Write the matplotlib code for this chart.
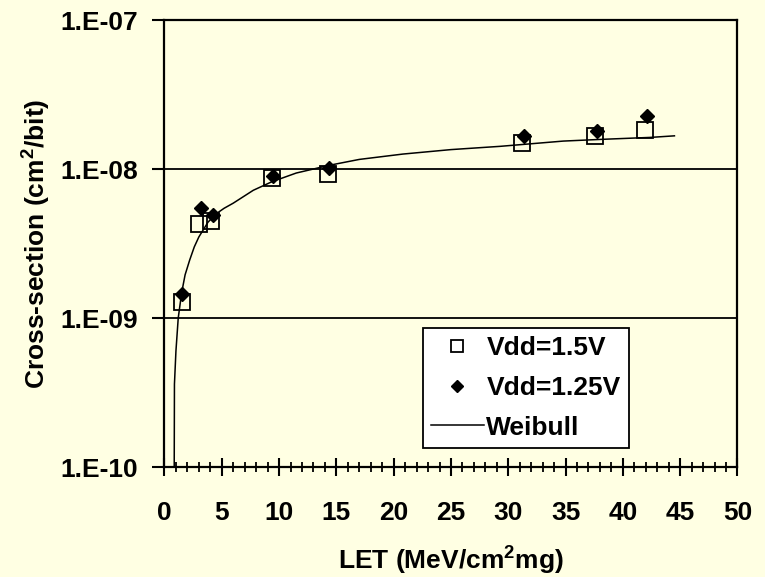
import numpy as np
import matplotlib
matplotlib.use("Agg")
import matplotlib.pyplot as plt
from matplotlib.ticker import FixedLocator, MultipleLocator, FuncFormatter

# LET values (MeV cm2/mg) and cross-sections (cm2/bit)
let_15 = [1.5, 3.0, 4.05, 9.4, 14.3, 31.2, 37.6, 41.9]
xs_15 = [1.28e-9, 4.3e-9, 4.5e-9, 8.75e-9, 9.2e-9, 1.50e-8, 1.66e-8, 1.84e-8]

let_125 = [1.55, 3.15, 4.2, 9.5, 14.4, 31.4, 37.7, 42.1]
xs_125 = [1.45e-9, 5.5e-9, 4.9e-9, 9.0e-9, 1.02e-8, 1.67e-8, 1.81e-8, 2.28e-8]

# Weibull fit curve
let_fit = [0.85, 0.87, 1.0, 1.2, 1.5, 1.8, 2.2, 2.6, 3.0, 3.8, 4.5, 5.2, 6.0,
           7.75, 9.35, 11.5, 14.4, 17.0, 20.8, 25.0, 29.3, 34.8, 38.0, 42.4, 44.5]
xs_fit = [1.0e-10, 3.6e-10, 6.0e-10, 1.0e-9, 1.48e-9, 1.95e-9, 2.45e-9, 3.0e-9,
          3.5e-9, 4.4e-9, 5.0e-9, 5.45e-9, 5.9e-9, 7.2e-9, 8.2e-9, 9.4e-9,
          1.06e-8, 1.16e-8, 1.26e-8, 1.35e-8, 1.42e-8, 1.54e-8, 1.58e-8,
          1.63e-8, 1.67e-8]

bg = "#FFFFE3"
plt.rcParams["font.family"] = ["Liberation Sans", "DejaVu Sans"]
plt.rcParams["font.weight"] = "bold"
plt.rcParams["mathtext.fontset"] = "custom"
plt.rcParams["mathtext.bf"] = "Liberation Sans:bold"
plt.rcParams["mathtext.rm"] = "Liberation Sans:bold"
plt.rcParams["mathtext.default"] = "bf"

fs = 19
fig = plt.figure(figsize=(7.65, 5.77), dpi=100, facecolor=bg)
ax = fig.add_axes([0.215, 0.1906, 0.749, 0.7747], facecolor=bg)

ax.set_yscale("log")
ax.set_xlim(0, 50)
ax.set_ylim(1e-10, 1e-7)

ax.yaxis.set_major_locator(FixedLocator([1e-10, 1e-9, 1e-8, 1e-7]))
ax.yaxis.set_minor_locator(FixedLocator([]))
ax.yaxis.set_major_formatter(FuncFormatter(lambda v, p: "1.E%03d" % int(round(np.log10(v)))))
ax.xaxis.set_major_locator(MultipleLocator(5))
ax.xaxis.set_minor_locator(MultipleLocator(1))

ax.grid(True, axis="y", which="major", color="black", linewidth=1.3)

ax.plot(let_15, xs_15, linestyle="none", marker="s", markersize=11,
        markerfacecolor="none", markeredgecolor="black", markeredgewidth=1.3,
        label="Vdd=1.5V", zorder=3)
ax.plot(let_125, xs_125, linestyle="none", marker="D", markersize=7.5,
        color="black", label="Vdd=1.25V", zorder=4)
ax.plot(let_fit, xs_fit, color="black", linewidth=1.1, label="Weibull", zorder=3)

for s in ax.spines.values():
    s.set_linewidth(1.6)
    s.set_color("black")

ax.tick_params(axis="x", which="major", direction="inout", length=13, width=1.5,
               labelsize=fs, pad=18)
ax.tick_params(axis="x", which="minor", direction="inout", length=7, width=1.3)
ax.tick_params(axis="y", which="major", direction="out", length=9, width=1.5,
               labelsize=fs, pad=10)

ax.set_xlabel(r"LET (MeV/cm$^{2}$mg)", fontsize=fs, fontweight="bold", labelpad=14)
ax.set_ylabel(r"Cross-section (cm$^{2}$/bit)", fontsize=fs, fontweight="bold", labelpad=5.5)

leg = ax.legend(loc="upper left", bbox_to_anchor=(423 / 765, 1 - 328 / 577),
                bbox_transform=fig.transFigure, fontsize=fs, frameon=True,
                fancybox=False, edgecolor="black", facecolor="white",
                framealpha=1, markerscale=0.85, handlelength=2.0,
                handletextpad=0.1, labelspacing=0.6, borderpad=0.3,
                borderaxespad=0)
leg.get_frame().set_linewidth(1.3)
for t in leg.get_texts():
    t.set_fontweight("bold")

fig.savefig("out.png", dpi=100, facecolor=bg)
